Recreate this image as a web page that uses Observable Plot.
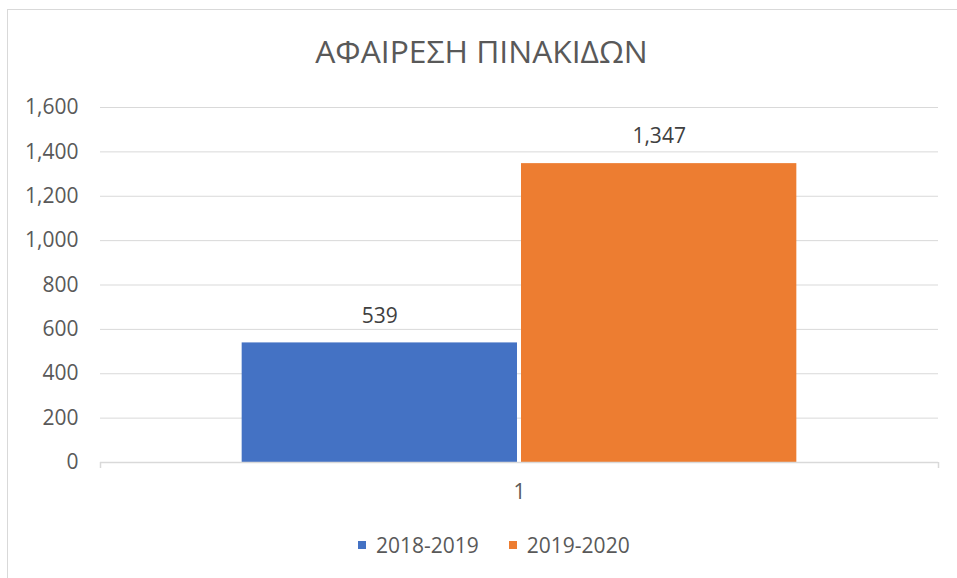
<!DOCTYPE html>
<html>
<head>
<meta charset="utf-8">
<script src="https://cdn.jsdelivr.net/npm/d3@7"></script>
<script src="https://cdn.jsdelivr.net/npm/@observablehq/plot@0.6"></script>
<style>
  body { margin: 0; background: #fff; }
  #chart { position: relative; width: 957px; height: 578px; overflow: hidden; background: #fff; font-family: "Open Sans", sans-serif; }
  #border { position: absolute; left: 7px; top: 9px; width: 990px; height: 600px; border: 1px solid #d9d9d9; }
  #title { position: absolute; left: 0; top: 31px; width: 963px; text-align: center; font-size: 31.8px; line-height: 40px; color: #595959; }
  #plot { position: absolute; left: 0; top: 80px; }
  #legend { position: absolute; left: 358px; top: 532px; display: flex; align-items: center; font-size: 21px; color: #595959; line-height: 26px; }
  .item { display: flex; align-items: center; }
  .sw { width: 8px; height: 8px; margin-right: 10px; }
</style>
</head>
<body>
<div id="chart">
  <div id="border"></div>
  <div id="title"></div>
  <div id="plot"></div>
  <div id="legend"></div>
</div>
<script>
const title = "ΑΦΑΙΡΕΣΗ ΠΙΝΑΚΙΔΩΝ";
const categories = ["1"];
const series = ["2018-2019", "2019-2020"];
const values = [539, 1347];
const colors = ["#4472C4", "#ED7D31"];
const yTicks = [0, 200, 400, 600, 800, 1000, 1200, 1400, 1600];

const gapWidth = 1.0; // Excel gap width (100%)
const n = series.length;
const rows = series.map((s, j) => ({
  series: s,
  value: values[j],
  cat: 0,
  x1: 0 + (gapWidth / 2 + j) / (n + gapWidth),
  x2: 0 + (gapWidth / 2 + j + 1) / (n + gapWidth)
}));
const edges = d3.range(categories.length + 1);
const catCenters = categories.map((c, i) => i + 0.5);
const fmt = d3.format(",");

document.getElementById("title").textContent = title;

const chart = Plot.plot({
  width: 957,
  height: 440,
  marginTop: 27,
  marginBottom: 58,
  marginLeft: 100,
  marginRight: 19,
  style: { fontFamily: "Open Sans, sans-serif", fontSize: "21px", color: "#595959", background: "transparent" },
  x: { domain: [0, categories.length] },
  y: { domain: [0, 1600] },
  color: { domain: series, range: colors },
  marks: [
    Plot.ruleY(yTicks.filter(d => d > 0), { stroke: "#d9d9d9", strokeWidth: 1 }),
    Plot.rectY(rows, { x1: "x1", x2: "x2", y1: 0, y2: "value", fill: "series", insetLeft: 2, insetRight: 2 }),
    Plot.ruleY([0], { stroke: "#d9d9d9", strokeWidth: 1.5 }),
    Plot.ruleX(edges, { x: d => d, y1: 0, y2: 0, insetBottom: -6, stroke: "#d9d9d9", strokeWidth: 1.5 }),
    Plot.text(rows, { x: d => (d.x1 + d.x2) / 2, y: "value", text: d => fmt(d.value), dy: -27, fill: "#404040", fontSize: 21 }),
    Plot.axisY(yTicks, { tickSize: 0, tickPadding: 22, tickFormat: fmt, label: null }),
    Plot.axisX(catCenters, { tickSize: 0, tickPadding: 22, tickFormat: d => categories[Math.floor(d)], label: null })
  ]
});
document.getElementById("plot").appendChild(chart);

const legend = document.getElementById("legend");
series.forEach((s, j) => {
  const item = document.createElement("div");
  item.className = "item";
  if (j > 0) item.style.marginLeft = "30px";
  const sw = document.createElement("div");
  sw.className = "sw";
  sw.style.background = colors[j];
  const t = document.createElement("span");
  t.textContent = s;
  item.appendChild(sw);
  item.appendChild(t);
  legend.appendChild(item);
});
</script>
</body>
</html>
